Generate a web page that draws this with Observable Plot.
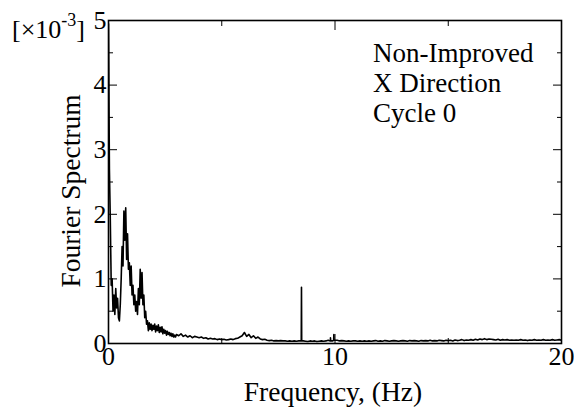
<!DOCTYPE html>
<html><head><meta charset="utf-8">
<script src="https://cdn.jsdelivr.net/npm/d3@7"></script>
<script src="https://cdn.jsdelivr.net/npm/@observablehq/plot@0.6"></script>
<style>body{margin:0;background:#fff}</style>
</head><body><div id="chart"></div>
<script>
const xTicks = [0, 10, 20];
const xMinorTicks = [5, 15];
const yTicks = [0, 1, 2, 3, 4, 5];
const yMinorTicks = [0.5, 1.5, 2.5, 3.5, 4.5];
const xLabel = "Frequency, (Hz)";
const yLabel = "Fourier Spectrum";
const notes = ["Non-Improved", "X Direction", "Cycle 0"];
const scaleNote = ["[×10", "-3", "]"];

// spectrum 0 – 2.96 Hz, bins of 0.04 Hz (×10^-3)
const lowStart = 0, lowStep = 0.04;
const lowAmp = [
  4.95, 2.7, 1.9, 0.9, 1.0, 0.5, 0.75, 0.45, 0.85, 0.55,
  0.7, 0.4, 0.35, 0.6, 1.0, 1.5, 1.2, 2.05, 1.6, 2.1,
  1.3, 1.7, 1.15, 1.25, 0.9, 1.2, 0.75, 0.9, 0.6, 0.75,
  0.5, 0.65, 0.45, 0.85, 0.6, 1.15, 0.7, 1.1, 0.6, 0.75,
  0.4, 0.5, 0.3, 0.35, 0.2, 0.32, 0.22, 0.3, 0.2, 0.28,
  0.22, 0.3, 0.18, 0.27, 0.2, 0.29, 0.17, 0.25, 0.18, 0.26,
  0.15, 0.22, 0.16, 0.2, 0.13, 0.19, 0.14, 0.17, 0.12, 0.16,
  0.11, 0.15, 0.1, 0.13, 0.1
];
// spectrum 3.0 – 20.0 Hz, bins of 0.1 Hz (×10^-3)
const highStart = 3.0, highStep = 0.1;
const highAmp = [
  0.14, 0.12, 0.15, 0.11, 0.13, 0.1, 0.12, 0.09, 0.11, 0.1,
  0.09, 0.1, 0.08, 0.09, 0.07, 0.08, 0.07, 0.075, 0.06, 0.07,
  0.06, 0.065, 0.055, 0.06, 0.07, 0.06, 0.075, 0.08, 0.1, 0.12,
  0.17, 0.11, 0.14, 0.09, 0.12, 0.08, 0.1, 0.07, 0.06, 0.065,
  0.05, 0.045, 0.05, 0.04, 0.045, 0.04, 0.045, 0.04, 0.04, 0.035,
  0.04, 0.035, 0.04, 0.035, 0.04, 0.04, 0.04, 0.035, 0.03, 0.04,
  0.035, 0.04, 0.03, 0.035, 0.04, 0.035, 0.04, 0.05, 0.04, 0.04,
  0.05, 0.05, 0.04, 0.045, 0.04, 0.035, 0.04, 0.035, 0.04, 0.04,
  0.035, 0.04, 0.035, 0.04, 0.035, 0.04, 0.035, 0.04, 0.045, 0.035,
  0.04, 0.035, 0.045, 0.04, 0.035, 0.04, 0.045, 0.04, 0.035, 0.04,
  0.045, 0.04, 0.035, 0.045, 0.04, 0.045, 0.04, 0.035, 0.045, 0.04,
  0.045, 0.04, 0.05, 0.04, 0.045, 0.04, 0.05, 0.045, 0.04, 0.05,
  0.045, 0.05, 0.04, 0.055, 0.045, 0.05, 0.06, 0.045, 0.055, 0.05,
  0.06, 0.05, 0.065, 0.055, 0.07, 0.06, 0.075, 0.06, 0.07, 0.065,
  0.06, 0.055, 0.065, 0.05, 0.06, 0.055, 0.06, 0.05, 0.055, 0.05,
  0.055, 0.05, 0.06, 0.05, 0.055, 0.045, 0.055, 0.05, 0.06, 0.05,
  0.055, 0.05, 0.06, 0.05, 0.055, 0.05, 0.06, 0.05, 0.055, 0.06,
  0.05
];
// narrow spectral lines read separately (Hz, ×10^-3)
const lineFreq = [8.51, 8.52, 8.53, 9.79, 9.8, 9.81, 9.94, 9.95, 9.96];
const lineAmp  = [0.04, 0.87, 0.04, 0.04, 0.09, 0.04, 0.05, 0.14, 0.05];

const data = [
  ...lowAmp.map((a, i) => ({f: lowStart + i * lowStep, a})),
  ...highAmp.map((a, i) => ({f: highStart + i * highStep, a})),
  ...lineAmp.map((a, i) => ({f: lineFreq[i], a}))
].sort((p, q) => p.f - q.f);

const font = "'Liberation Serif', 'Times New Roman', serif";
const mL = 108, mR = 13, mT = 20, mB = 66, W = 574, H = 409;

const chart = Plot.plot({
  width: W, height: H,
  marginLeft: mL, marginRight: mR, marginTop: mT, marginBottom: mB,
  style: {fontFamily: font, fontSize: "26px", color: "black", background: "white", overflow: "visible"},
  x: {domain: [0, 20]},
  y: {domain: [0, 5]},
  marks: [
    Plot.line(data, {x: "f", y: "a", stroke: "black", strokeWidth: 1.6, clip: true}),
    Plot.axisX({anchor: "bottom", ticks: xTicks, tickFormat: d3.format("d"), tickSize: -9, tickPadding: 12, label: null, fontSize: 26}),
    Plot.axisX({anchor: "bottom", ticks: xMinorTicks, tickSize: -5, text: null, label: null}),
    Plot.axisX({anchor: "top", ticks: xTicks, tickSize: -9, text: null, label: null}),
    Plot.axisX({anchor: "top", ticks: xMinorTicks, tickSize: -5, text: null, label: null}),
    Plot.axisY({anchor: "left", ticks: yTicks, tickFormat: d3.format("d"), tickSize: -9, tickPadding: 11, label: null, fontSize: 26}),
    Plot.axisY({anchor: "left", ticks: yMinorTicks, tickSize: -5, text: null, label: null}),
    Plot.axisY({anchor: "right", ticks: yTicks, tickSize: -9, text: null, label: null}),
    Plot.axisY({anchor: "right", ticks: yMinorTicks, tickSize: -5, text: null, label: null}),
    Plot.frame({stroke: "black", strokeWidth: 1.6})
  ]
});

const svg = d3.select(chart);
const addText = (x, y, t, size, anchor = "start", rotate = 0) =>
  svg.append("text")
    .attr("transform", `translate(${x},${y}) rotate(${rotate})`)
    .attr("text-anchor", anchor)
    .attr("font-family", font)
    .attr("font-size", size)
    .attr("fill", "black")
    .text(t);

addText(333, 401, xLabel, 27.5, "middle");
addText(80, 191, yLabel, 27.5, "middle", -90);
notes.forEach((n, i) => addText(373, 62 + i * 30, n, 27));

const sc = svg.append("text")
  .attr("x", 12).attr("y", 38)
  .attr("text-anchor", "start")
  .attr("font-family", font).attr("font-size", 26).attr("fill", "black");
sc.append("tspan").text(scaleNote[0]);
sc.append("tspan").attr("dy", -12).attr("font-size", 18).text(scaleNote[1]);
sc.append("tspan").attr("dy", 12).attr("font-size", 26).text(scaleNote[2]);

document.getElementById("chart").appendChild(chart);
</script>
</body></html>
